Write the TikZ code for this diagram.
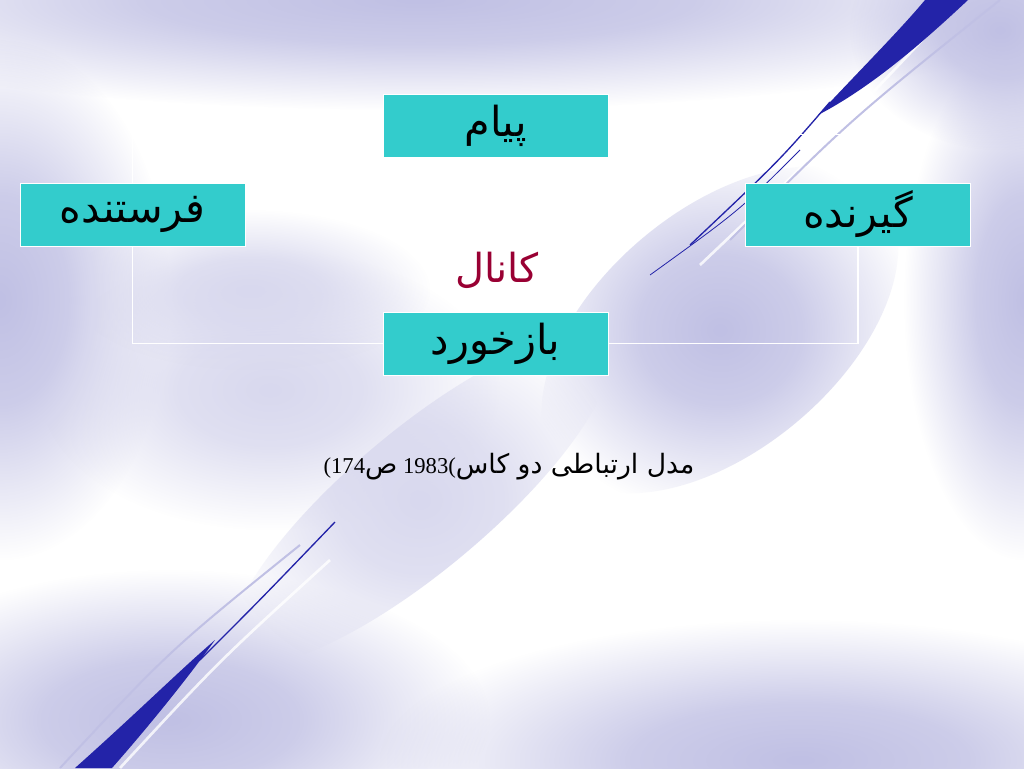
\documentclass[tikz,border=0pt]{standalone}
\usepackage{fontspec}
\setmainfont{Liberation Serif}
\newfontfamily\arabicfont[Script=Arabic]{DejaVu Sans}
\TeXXeTstate=1
\usetikzlibrary{positioning,fadings}

\definecolor{boxteal}{HTML}{33CCCC}
\definecolor{lavender}{HTML}{C0C0E4}
\definecolor{palelav}{HTML}{D8D8EE}
\definecolor{streakblue}{HTML}{2323A8}
\definecolor{chanred}{HTML}{990033}

% soft cloud used for the slide background
\pgfdeclareradialshading{softshade}{\pgfpointorigin}{color(0bp)=(white); color(10bp)=(white!80!black); color(25bp)=(black); color(50bp)=(black)}
\pgfdeclarefading{softblob}{\pgfuseshading{softshade}}

\pgfdeclarelayer{back}
\pgfdeclarelayer{frame}
\pgfsetlayers{back,frame,main}

\begin{document}
\begin{tikzpicture}[
    x=0.75pt, y=-0.75pt,
    box/.style={rectangle, draw=white, line width=0.75pt, fill=boxteal, minimum width=168.75pt, minimum height=47.25pt, inner sep=0pt, font=\arabicfont\fontsize{31}{36}\selectfont},
    link/.style={draw=white, line width=0.9pt},
    haze/.style={fill=#1, path fading=softblob, fit fading=true},
    streak/.style={fill=streakblue}
]
% background of the slide
\begin{pgfonlayer}{back}
\fill[white] (0,0) rectangle (1024,768);
\useasboundingbox (0,0) rectangle (1024,768);
\fill[haze=lavender] (420,0) ellipse (680 and 110);
\fill[haze=lavender] (0,300) ellipse (170 and 260);
\fill[haze=palelav] (270,390) ellipse (230 and 140);
\fill[haze=palelav] (250,290) ellipse (180 and 80);
\fill[haze=lavender] (170,720) ellipse (320 and 150);
\fill[haze=lavender] (800,760) ellipse (420 and 140);
\fill[haze=lavender] (1024,300) ellipse (120 and 260);
\fill[haze=lavender, rotate around={40:(720,330)}] (720,330) ellipse (210 and 120);
\fill[haze=lavender] (1000,30) ellipse (150 and 120);
\fill[haze=palelav, rotate around={40:(420,500)}] (420,500) ellipse (240 and 70);
% pale lines along the streak
\draw[white, line width=2pt, opacity=.8] (120,768) .. controls (220,660) .. (330,560);
\draw[white, line width=2pt, opacity=.8] (700,265) .. controls (800,170) .. (960,0);
\draw[lavender, line width=1.5pt] (60,768) .. controls (170,650) .. (300,545);
\draw[lavender, line width=1.5pt] (730,240) .. controls (850,120) .. (1000,0);
% blue streaks
\fill[streak] (75,768) .. controls (140,710) and (180,670) .. (215,640) .. controls (190,675) and (150,725) .. (112,768) -- cycle;
\draw[streakblue, line width=1pt] (200,660) .. controls (260,600) .. (335,522);
\fill[streak] (818,115) .. controls (860,70) and (900,30) .. (925,0) -- (968,0) .. controls (920,45) and (870,88) .. cycle;
\draw[streakblue, line width=1pt] (830,102) .. controls (780,160) .. (690,245);
\draw[streakblue, line width=.6pt] (800,150) .. controls (740,210) .. (650,275);
\end{pgfonlayer}

% diagram
\node[box] (msg) at (495.5,125.5) {\beginR پیام\endR};
\node[box] (snd) at (132.5,214.5) {\beginR فرستنده\endR};
\node[box] (rcv) at (858,214.5) {\beginR گیرنده\endR};
\node[box] (fb) at (495.5,343.5) {\beginR بازخورد\endR};
\node[text=chanred, font=\arabicfont\fontsize{30}{34}\selectfont] (chan) at (497,270) {\beginR کانال\endR};

\begin{pgfonlayer}{frame}
\draw[link] (snd.north) |- ([yshift=-6.75pt]msg.west);
\draw[link] ([yshift=-6.75pt]msg.east) -| (rcv.north);
\draw[link] (rcv.south) |- (fb.east);
\draw[link] (fb.west) -| (snd.south);
\end{pgfonlayer}

\node (cap) at (509,467) {\fontsize{17}{20}\selectfont (174{\arabicfont\fontsize{20}{24}\selectfont ص}\ 1983({\arabicfont\fontsize{20}{24}\selectfont\beginR مدل ارتباطی دو کاس\endR}};
\end{tikzpicture}
\end{document}
